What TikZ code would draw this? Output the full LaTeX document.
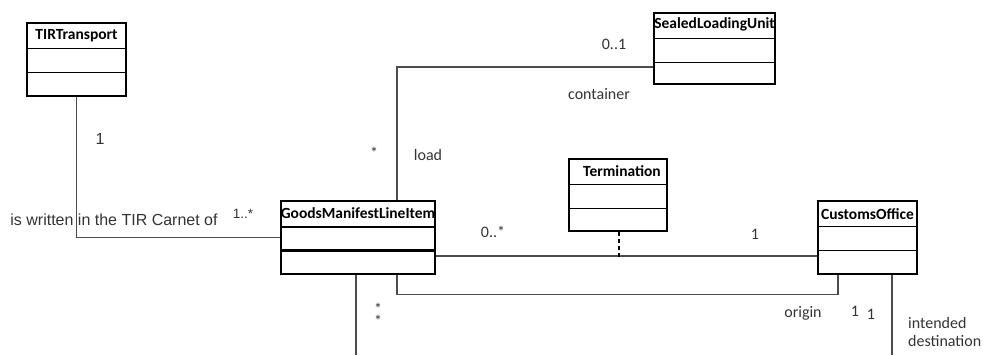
\documentclass[tikz,border=0pt]{standalone}
\usepackage{fontspec}
\setmainfont{Carlito}
\newfontfamily\arialfont{Liberation Sans}
\usetikzlibrary{calc}

\begin{document}
\begin{tikzpicture}[
    x=1pt, y=-1pt,
    umlclass/.style={rectangle, draw, line width=1.5pt, inner sep=0pt},
    classname/.style={font=\fontsize{15.5}{17}\selectfont\bfseries, inner sep=0pt},
    assoc/.style={draw=black!70, line width=1.2pt},
    mult/.style={font=\fontsize{16}{17}\selectfont, inner sep=0pt, text=black!80},
    armult/.style={font=\arialfont\fontsize{16}{17}\selectfont, inner sep=0pt, text=black!80}
]
\useasboundingbox (0,0) rectangle (983,354);

% classes
\node[umlclass, minimum width=99pt, minimum height=73pt] (tir) at (76.5,59.5) {};
\node[umlclass, minimum width=121pt, minimum height=71pt] (slu) at (714.5,48.5) {};
\node[umlclass, minimum width=98pt, minimum height=72pt] (term) at (618,195) {};
\node[umlclass, line width=2.6pt, minimum width=154pt, minimum height=73pt] (gml) at (358,237.5) {};
\node[umlclass, minimum width=99pt, minimum height=73pt] (office) at (867.5,237.5) {};

\foreach \c in {tir,slu,term,office} {
    \draw[line width=1.5pt] ($(\c.north west)+(0,26)$) -- ($(\c.north east)+(0,26)$);
    \draw[line width=1.5pt] ($(\c.north west)+(0,50)$) -- ($(\c.north east)+(0,50)$);
}
\draw[line width=1.8pt] ($(gml.north west)+(0,27)$) -- ($(gml.north east)+(0,27)$);
\draw[line width=2.6pt] ($(gml.north west)+(0,51)$) -- ($(gml.north east)+(0,51)$);

\node[classname] (tir-name) at ($(tir.north)+(0,13)$) {TIRTransport};
\node[classname] (slu-name) at ($(slu.north)+(0,12.5)$) {SealedLoadingUnit};
\node[classname] (term-name) at ($(term.north)+(4,13)$) {Termination};
\node[classname] (gml-name) at ($(gml.north)+(0,13.5)$) {GoodsManifestLineItem};
\node[classname] (office-name) at ($(office.north)+(0,13.5)$) {CustomsOffice};

% associations
\draw[assoc] (tir.south) |- (gml.west);
\draw[assoc] ($(gml.north)+(39,0)$) |- ($(slu.west)+(0,18.5)$);
\draw[assoc] ($(gml.east)+(0,18.5)$) -- ($(office.west)+(0,18.5)$);
\coordinate (term-link) at ($(term.south)+(1,25)$);
\draw[black, line width=1.6pt, dash pattern=on 4pt off 3pt] ($(term.south)+(1,0)$) -- (term-link);
\draw[assoc] ($(gml.south)+(39,0)$) -- ++(0,19) -| ($(office.south)+(-29.5,0)$);
\coordinate (dest-end) at ($(office.south)+(24.5,80)$);
\draw[assoc] ($(office.south)+(24.5,0)$) -- (dest-end);
\coordinate (gml-end) at ($(gml.south)+(-2,80)$);
\draw[assoc] ($(gml.south)+(-2,0)$) -- (gml-end);

% labels
\node[armult] (tir-m) at (100,139) {1};
\node[armult] (carnet) at (114,220) {is written in the TIR Carnet of};
\node[armult, font=\arialfont\fontsize{13.5}{15}\selectfont] (gml-m1) at (243,214) {1..*};
\node[mult] (load-m) at (374,153) {*};
\node[mult] (load) at (428,155) {load};
\node[mult] (slu-m) at (614,44) {0..1};
\node[mult] (container) at (599,94) {container};
\node[mult] (term-m1) at (493,232) {0..*};
\node[mult] (term-m2) at (755,234) {1};
\node[mult] (origin) at (803,313) {origin};
\node[mult] (origin-m) at (855,311) {1};
\node[mult] (dest-m) at (871,314) {1};
\node[mult, anchor=west, align=left, font=\fontsize{16}{18}\selectfont] (dest) at (908,332) {intended\\destination};
\node[mult, align=center, font=\fontsize{16}{9}\selectfont] (gml-m2) at (378,315) {*\\*};

\end{tikzpicture}
\end{document}
